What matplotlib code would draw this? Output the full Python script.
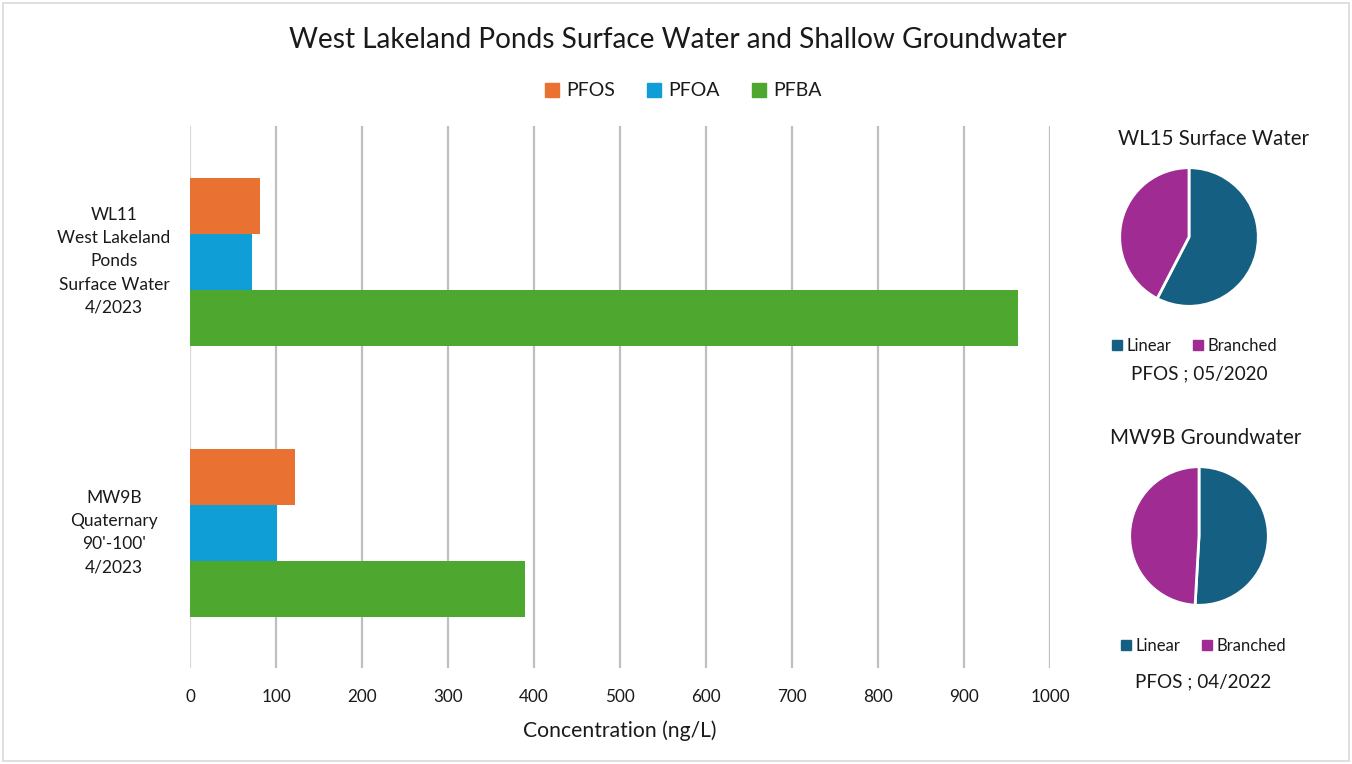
import matplotlib
matplotlib.use("Agg")
import matplotlib.pyplot as plt
import numpy as np
from matplotlib.lines import Line2D
from matplotlib.patches import Rectangle
import matplotlib.transforms as mtrans

plt.rcParams['font.family'] = ['Lato', 'DejaVu Sans']

# ---------------- data ----------------
categories = ["WL11\nWest Lakeland\nPonds\nSurface Water\n4/2023",
              "MW9B\nQuaternary\n90'-100'\n4/2023"]
series_names = ["PFOS", "PFOA", "PFBA"]
pfos = [81, 122]
pfoa = [72, 101]
pfba = [963, 390]
series_colors = ["#E97132", "#0F9ED5", "#4EA72E"]
x_ticks = [0, 100, 200, 300, 400, 500, 600, 700, 800, 900, 1000]

pie_titles = ["WL15 Surface Water", "MW9B Groundwater"]
pie_labels = ["Linear", "Branched"]
pie1_values = [57.6, 42.4]
pie2_values = [50.9, 49.1]
pie_captions = ["PFOS ; 05/2020", "PFOS ; 04/2022"]
pie_colors = ["#156082", "#A02B93"]

W, H = 1352, 764
fig = plt.figure(figsize=(W / 100, H / 100), dpi=100)

def fx(px):
    return px / W

def fy(py):
    return 1 - py / H

TXT = "#1a1a1a"

# border
fig.patches.append(Rectangle((fx(3), fy(761)), fx(1346), 758 / H, transform=fig.transFigure,
                             fill=False, edgecolor="#D9D9D9", lw=1.2))

# ---------------- bar chart ----------------
L, R, T, B = 190, 1050, 126, 668
ax = fig.add_axes([fx(L), fy(B), fx(R - L), (B - T) / H])
h = 56 / 271
y = np.arange(len(categories))
for k, (vals, col, name) in enumerate(zip([pfos, pfoa, pfba], series_colors, series_names)):
    ax.barh(y + (k - 1) * h, vals, height=h, color=col, label=name, zorder=3)

ax.set_xlim(0, 1000)
ax.set_ylim(1.5, -0.5)
ax.set_xticks(x_ticks)
ax.set_xticklabels([str(t) for t in x_ticks], fontsize=12.3, color=TXT)
ax.tick_params(axis='x', length=0, pad=15)
ax.set_yticks([])
for s in ax.spines.values():
    s.set_visible(False)
for t in x_ticks:
    ax.axvline(t, color="#D9D9D9" if t == 0 else "#BFBFBF", lw=1.6, zorder=1)
ax.set_xlabel("Concentration (ng/L)", fontsize=15.2, labelpad=11, color=TXT)

tr = mtrans.blended_transform_factory(fig.transFigure, ax.transData)
for i, cat in enumerate(categories):
    fig.text(fx(114), i, cat, transform=tr, ha='center', va='center',
             fontsize=12.5, linespacing=1.55, color=TXT)

fig.text(fx(678), fy(40), "West Lakeland Ponds Surface Water and Shallow Groundwater",
         ha='center', va='center', fontsize=20.2, color=TXT)

handles = [Line2D([], [], marker='s', linestyle='none', markersize=10, color=c) for c in series_colors]
fig.legend(handles, series_names, loc='center', bbox_to_anchor=(fx(682), fy(91)),
           ncol=3, frameon=False, fontsize=14, handletextpad=0.2, columnspacing=1.55,
           handlelength=1.0, labelcolor=TXT)

# ---------------- pies ----------------
def draw_pie(cx, cy, r, values, title, title_xy, leg_xy, caption, cap_xy):
    pax = fig.add_axes([fx(cx - r), fy(cy + r), fx(2 * r), 2 * r / H])
    pax.pie(values, colors=pie_colors, startangle=90, counterclock=False,
            wedgeprops=dict(edgecolor='white', linewidth=2.0))
    pax.set_xlim(-1.01, 1.01)
    pax.set_ylim(-1.01, 1.01)
    pax.set_aspect('equal')
    pax.axis('off')
    fig.text(fx(title_xy[0]), fy(title_xy[1]), title, ha='center', va='center',
             fontsize=14.8, color=TXT)
    hh = [Line2D([], [], marker='s', linestyle='none', markersize=6.5, color=c) for c in pie_colors]
    fig.legend(hh, pie_labels, loc='center', bbox_to_anchor=(fx(leg_xy[0]), fy(leg_xy[1])),
               ncol=2, frameon=False, fontsize=12, handletextpad=0.05, columnspacing=1.1,
               handlelength=1.0, labelcolor=TXT)
    fig.text(fx(cap_xy[0]), fy(cap_xy[1]), caption, ha='center', va='center',
             fontsize=13.6, color=TXT)

draw_pie(1189, 237, 70, pie1_values, pie_titles[0], (1213, 139), (1193, 346), pie_captions[0], (1199, 374))
draw_pie(1199, 536, 70, pie2_values, pie_titles[1], (1206, 438), (1202, 646), pie_captions[1], (1203, 682))

fig.savefig("out.png", dpi=100)
